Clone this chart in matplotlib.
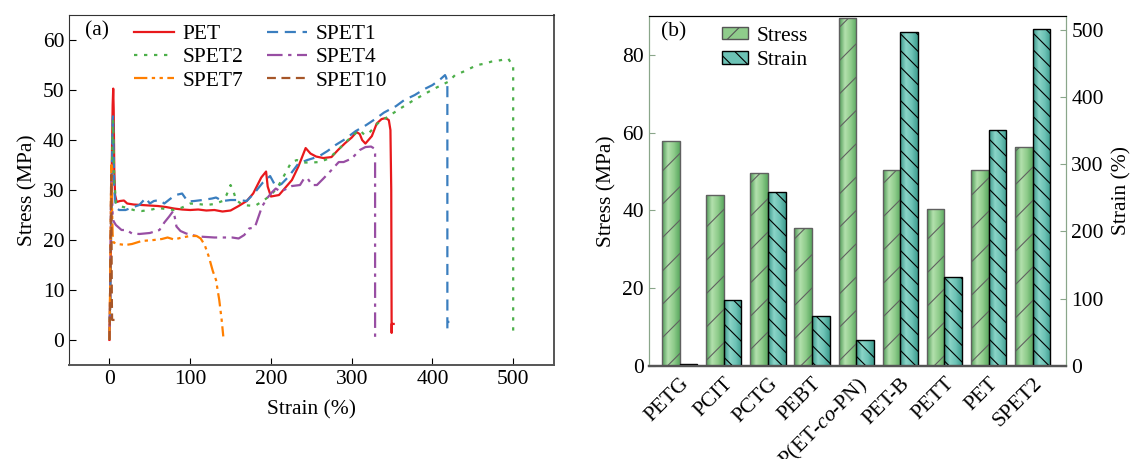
import numpy as np
import matplotlib
matplotlib.use("Agg")
import matplotlib.pyplot as plt
from matplotlib.colors import LinearSegmentedColormap
from matplotlib.patches import Patch

plt.rcParams['font.family'] = ['Liberation Serif', 'DejaVu Serif']
plt.rcParams['mathtext.fontset'] = 'custom'
plt.rcParams['mathtext.rm'] = 'Liberation Serif'
plt.rcParams['mathtext.it'] = 'Liberation Serif:italic'
plt.rcParams['font.size'] = 15.5
plt.rcParams['hatch.linewidth'] = 0.8

# ---- (a) stress-strain curves, (strain %, stress MPa)
pet = [(0, 0), (1, 10), (2, 22), (3, 36), (4, 47), (4.7, 50.3), (5.3, 46), (6, 34), (7, 29),
       (9, 27.6), (13, 27.8), (18, 27.9), (22, 27.3), (30, 27.1), (40, 27), (50, 26.9),
       (60, 26.8), (70, 26.6), (80, 26.3), (90, 26.1), (100, 26), (110, 26.1), (120, 25.9),
       (130, 26), (140, 25.7), (150, 25.9), (160, 26.8), (170, 27.8), (178, 29.3), (188, 32.5),
       (194, 33.7), (196, 30.7), (200, 28.7), (210, 29), (218, 30.5), (226, 32), (234, 34.7),
       (243, 38.4), (249, 37.3), (256, 36.7), (265, 36.4), (275, 36.6), (283, 38), (292, 39.4),
       (300, 40.5), (306, 41.6), (310, 41.2), (313, 40), (317, 39.3), (325, 40.8), (331, 43.3),
       (337, 44.2), (342, 44.4), (346, 44), (348, 42), (349, 30), (349.5, 1.4), (349.6, 3.2),
       (352, 3.2)]
spet1 = [(0, 0), (1, 8), (2, 20), (3, 33), (4, 44), (4.5, 45), (5, 40), (6, 30), (8, 26.5),
         (12, 26), (20, 26), (28, 26.5), (37, 27), (45, 28.4), (50, 27.3), (55, 27.8), (62, 28),
         (68, 27.3), (75, 28.2), (82, 29), (90, 29.3), (97, 27.7), (105, 27.8), (115, 28),
         (127, 28.3), (132, 28.5), (140, 27.8), (150, 28), (160, 28), (170, 27.8), (180, 29.5),
         (190, 31.5), (199, 32.8), (206, 30.7), (213, 31.2), (222, 32.7), (234, 35.3),
         (245, 36), (259, 36.7), (270, 37.8), (280, 39), (292, 40.2), (305, 41.8), (318, 43),
         (330, 44.3), (340, 45.5), (355, 46.8), (365, 48), (378, 49), (390, 50.2), (400, 51),
         (410, 52.2), (415.6, 53), (417, 52.5), (418.5, 51.5), (418.5, 2.3), (418.6, 3.6),
         (421, 3.6)]
spet2 = [(0, 0), (1, 8), (2, 20), (3, 33), (4, 42), (4.5, 44), (5, 40), (6, 32), (8, 27.5),
         (12, 26.8), (20, 26.5), (30, 26), (40, 25.8), (50, 26), (60, 26.4), (70, 26.2),
         (80, 26), (90, 26.5), (100, 27.3), (110, 27.2), (120, 27), (130, 27.2), (140, 27.8),
         (145, 29), (150, 31), (153, 30), (157, 28), (165, 27), (180, 26.8), (190, 27.8),
         (200, 29), (208, 30.5), (215, 32.5), (225, 35.5), (232, 36), (240, 35.5), (250, 35.5),
         (260, 35.6), (270, 36.2), (280, 37.5), (292, 39.5), (302, 41), (310, 42), (316, 41),
         (322, 41.5), (332, 43.3), (345, 44.7), (360, 46.3), (375, 47.8), (390, 49.2),
         (405, 50.5), (420, 51.7), (428, 53), (440, 53.8), (455, 55), (465, 55.3), (473, 55.7),
         (485, 56), (494, 56.3), (497, 55.5), (500, 55), (500, 1.6)]
spet4 = [(0, 0), (1, 8), (1.5, 18), (2, 28), (2.5, 33), (3, 30), (4, 25), (5, 23.8), (8, 23),
         (15, 22), (21, 22), (28, 21.3), (37, 21.2), (50, 21.4), (62, 22), (68, 23.5), (74, 24.7),
         (79, 25.8), (81, 24.5), (83, 22.7), (88, 21.8), (95, 21.3), (110, 20.7), (130, 20.5),
         (152, 20.5), (160, 20.3), (167, 21), (173, 22.3), (180, 22.5), (189, 26.7), (196, 28.5),
         (201, 29.5), (206, 30.3), (212, 29.7), (220, 30.3), (226, 30.8), (236, 31), (241, 32.3),
         (245, 32.4), (251, 31), (257, 31), (265, 32.3), (275, 34), (284, 35.6), (290, 35.6),
         (300, 36.3), (310, 38), (317, 38.6), (324, 38.7), (328, 38.3), (329, 37.3), (329, 0.3)]
spet7 = [(0, 0), (0.8, 10), (1.5, 22), (2, 30), (2.5, 35), (3, 28), (4, 21), (5, 19.5),
         (10, 19.2), (20, 19), (28, 19.2), (40, 19.8), (55, 20), (65, 20.2), (72, 20.5),
         (80, 20.1), (90, 20.5), (100, 20.8), (108, 20.8), (113, 20.3), (118, 19), (123, 16.7),
         (128, 13.8), (132, 12), (136, 8), (139, 4), (141, 0.7)]
spet10 = [(0, 0), (0.5, 5), (1, 12), (1.5, 22), (2, 30), (2.3, 33), (2.6, 20), (3, 8),
          (3.3, 4), (5, 4), (7, 4)]

curve_names = ['PET', 'SPET1', 'SPET2', 'SPET4', 'SPET7', 'SPET10']
curves = [pet, spet1, spet2, spet4, spet7, spet10]
curve_colors = ['#e8191c', '#3a7ebf', '#4daf4a', '#984ea3', '#ff7f00', '#a65628']
curve_styles = ['-', (0, (5, 3)), (0, (1.5, 3)), (0, (7, 2.5, 1.5, 2.5)),
                (0, (6, 2, 1.5, 2, 1.5, 2)), (0, (4, 2.5))]

# ---- (b) bar chart
materials = ['PETG', 'PCIT', 'PCTG', 'PEBT', 'P(ET-$\\it{co}$-PN)', 'PET-B', 'PETT', 'PET', 'SPET2']
stress = [57.8, 44.0, 49.6, 35.5, 89.5, 50.3, 40.3, 50.3, 56.4]
strain = [3, 98, 259, 74, 39, 497, 132, 350, 501]

fig = plt.figure(figsize=(11.32, 4.59), dpi=100)
ax1 = fig.add_axes([0.061, 0.205, 0.428, 0.762])
ax2 = fig.add_axes([0.573, 0.203, 0.369, 0.762])
ax3 = ax2.twinx()

lines = []
for pts, name, c, ls in zip(curves, curve_names, curve_colors, curve_styles):
    xy = np.array(pts).T
    ln, = ax1.plot(xy[0], xy[1], color=c, linestyle=ls, lw=1.6, label=name)
    lines.append(ln)

ax1.set_xlim(-50, 550)
ax1.set_ylim(-5, 65)
ax1.set_xticks([0, 100, 200, 300, 400, 500])
ax1.set_yticks([0, 10, 20, 30, 40, 50, 60])
ax1.tick_params(direction='in', length=5, top=False, right=False)
for s in ax1.spines.values():
    s.set_color('#333333')
ax1.spines['bottom'].set_color('#555555')
ax1.spines['bottom'].set_linewidth(1.4)
ax1.spines['right'].set_color('#555555')
ax1.spines['right'].set_linewidth(1.4)
ax1.set_xlabel('Strain (%)', labelpad=8)
ax1.set_ylabel('Stress (MPa)', labelpad=4)
ax1.text(0.032, 0.955, '(a)', transform=ax1.transAxes, va='center')
order = [0, 2, 4, 1, 3, 5]
ax1.legend([lines[i] for i in order], [curve_names[i] for i in order], ncol=2,
           frameon=False, loc='upper left', bbox_to_anchor=(0.095, 1.03),
           handlelength=1.85, handletextpad=0.4, labelspacing=0.15, columnspacing=1.1)

# bars with cylinder-like gradient
x = np.arange(len(materials))
w = 0.4
cm_stress = LinearSegmentedColormap.from_list('s', ['#4e9a56', '#b3e0ad', '#8fcc8b', '#5aa860'])
cm_strain = LinearSegmentedColormap.from_list('t', ['#3a978a', '#8ad4c7', '#6cc2b5', '#3d9c8e'])
grad = np.linspace(0, 1, 64).reshape(1, -1)

b1 = ax2.bar(x - w / 2, stress, w, facecolor='none', edgecolor='#606060', hatch='/',
             lw=1.0, zorder=3)
strain_on_left = [s * 90 / 520 for s in strain]
b2 = ax2.bar(x + w / 2, strain_on_left, w, facecolor='none', edgecolor='black', hatch='\\\\',
             lw=1.0, zorder=3)
for bars, cmap in [(b1, cm_stress), (b2, cm_strain)]:
    for r in bars:
        x0, y0 = r.get_x(), r.get_y()
        im = ax2.imshow(grad, cmap=cmap, aspect='auto', zorder=2,
                        extent=[x0, x0 + r.get_width(), y0, y0 + r.get_height()])
        im.set_clip_path(r)

ax2.set_xlim(-0.7, 8.76)
ax2.set_ylim(0, 90)
ax3.set_ylim(0, 520)
ax2.set_yticks([0, 20, 40, 60, 80])
ax3.set_yticks([0, 100, 200, 300, 400, 500])
ax2.set_xticks(x)
ax2.set_xticklabels(materials, rotation=45, ha='right', rotation_mode='anchor')
ax2.tick_params(axis='x', length=0, pad=6)
ax2.tick_params(axis='y', direction='in', length=4, color='#8aa68a')
ax3.tick_params(axis='y', direction='in', length=4, color='#8aa68a')
for a in (ax2, ax3):
    a.spines['left'].set_color('#8aa68a')
    a.spines['right'].set_color('#8aa68a')
    a.spines['bottom'].set_color('#555555')
    a.spines['bottom'].set_linewidth(1.6)
ax2.set_ylabel('Stress (MPa)', labelpad=4)
ax3.set_ylabel('Strain (%)', labelpad=6)
ax2.text(0.03, 0.955, '(b)', transform=ax2.transAxes, va='center')
handles = [Patch(facecolor='#8fcc8b', edgecolor='#555555', hatch='/', lw=1.0, label='Stress'),
           Patch(facecolor='#6cc2b5', edgecolor='black', hatch='\\\\', lw=1.0, label='Strain')]
ax2.legend(handles=handles, frameon=False, loc='upper left', bbox_to_anchor=(0.13, 1.025),
           handlelength=1.2, handleheight=0.5, handletextpad=0.4, labelspacing=0.25)

fig.savefig('out.png', dpi=100)
